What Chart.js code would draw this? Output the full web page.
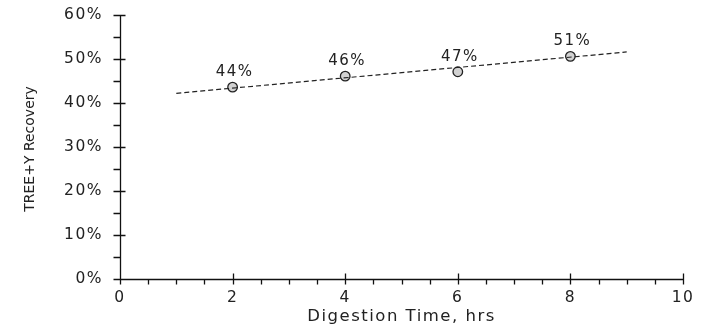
<!DOCTYPE html>
<html>
<head>
<meta charset="utf-8">
<script src="https://cdn.jsdelivr.net/npm/chart.js@4/dist/chart.umd.min.js"></script>
<style>
  html, body { margin: 0; padding: 0; background: #fff; }
  #wrap { width: 704px; height: 330px; }
</style>
</head>
<body>
<div id="wrap"><canvas id="myChart"></canvas></div>
<script>
// values
var hours = [2, 4, 6, 8];
var recovery = [43.6, 46.1, 47.1, 50.6];
var pointLabels = ["44%", "46%", "47%", "51%"];
var trendHours = [1, 9];
var trendRecovery = [42.2, 51.6];
var xTicks = [0, 2, 4, 6, 8, 10];
var yTicks = [0, 10, 20, 30, 40, 50, 60];

var xTitle = "Digestion Time, hrs";
var yTitle = "TREE+Y Recovery";
var font = "DejaVu Sans";

function spacing(chart) {
  chart.ctx.letterSpacing = "1.5px";
}

// axis lines + crossing major ticks + minor ticks
var axisTicks = {
  id: "axisTicks",
  beforeLayout: spacing,
  beforeDraw: spacing,
  afterDraw: function (chart) {
    var ctx = chart.ctx;
    var xs = chart.scales.x, ys = chart.scales.y;
    var a = chart.chartArea;
    var left = Math.round(a.left) + 0.5, bottom = Math.round(a.bottom) + 0.5;
    ctx.save();
    ctx.strokeStyle = "#111";
    ctx.lineWidth = 1.3;
    ctx.beginPath();
    ctx.moveTo(left, Math.round(a.top));
    ctx.lineTo(left, bottom);
    ctx.lineTo(Math.round(a.right), bottom);
    for (var v = 0; v <= 60; v += 5) {
      var y = Math.round(ys.getPixelForValue(v)) + 0.5;
      ctx.moveTo(left - 7, y);
      ctx.lineTo(v % 10 === 0 ? left + 5 : left, y);
    }
    for (var h = 0; h <= 10; h += 0.5) {
      var x = Math.round(xs.getPixelForValue(h)) + 0.5;
      ctx.moveTo(x, h % 2 === 0 ? bottom - 6 : bottom);
      ctx.lineTo(x, bottom + 5);
    }
    ctx.stroke();

    // y title
    ctx.letterSpacing = "0px";
    ctx.fillStyle = "#222";
    ctx.font = "14px '" + font + "'";
    ctx.textAlign = "center";
    ctx.textBaseline = "middle";
    ctx.translate(30, (a.top + a.bottom) / 2 + 2);
    ctx.rotate(-Math.PI / 2);
    ctx.fillText(yTitle, 0, 0);
    ctx.restore();
  }
};

// value labels above the points
var valueLabels = {
  id: "valueLabels",
  afterDatasetsDraw: function (chart) {
    var ctx = chart.ctx;
    var meta = chart.getDatasetMeta(1);
    ctx.save();
    ctx.fillStyle = "#222";
    ctx.font = "15px '" + font + "'";
    ctx.textAlign = "center";
    ctx.textBaseline = "middle";
    meta.data.forEach(function (pt, i) {
      ctx.fillText(pointLabels[i], pt.x + 2, pt.y - 15);
    });
    ctx.restore();
  }
};

var ctx = document.getElementById("myChart");
var myChart = new Chart(ctx, {
  type: "scatter",
  data: {
    datasets: [{
      type: "line",
      label: "trend",
      data: trendHours.map(function (h, i) { return { x: h, y: trendRecovery[i] }; }),
      borderColor: "#222",
      borderWidth: 1.2,
      borderDash: [5, 3],
      pointRadius: 0,
      fill: false
    },
    {
      label: "recovery",
      data: hours.map(function (h, i) { return { x: h, y: recovery[i] }; }),
      backgroundColor: "#d2d2d2",
      borderColor: "#222",
      borderWidth: 1.3,
      pointRadius: 4.8,
      pointHoverRadius: 4.8
    }]
  },
  options: {
    responsive: true,
    maintainAspectRatio: false,
    animation: false,
    events: [],
    layout: { padding: { left: 0, right: 21, top: 15, bottom: 0 } },
    plugins: { legend: { display: false }, tooltip: { enabled: false } },
    scales: {
      x: {
        type: "linear",
        min: 0,
        max: 10,
        afterFit: function (s) { s.height = 51; s.paddingLeft = 0; s.paddingRight = 0; },
        afterBuildTicks: function (s) { s.ticks = xTicks.map(function (v) { return { value: v }; }); },
        grid: { display: false, drawTicks: false },
        border: { display: false },
        ticks: { color: "#222", padding: 10, font: { family: font, size: 15.5 } },
        title: {
          display: true,
          text: xTitle,
          color: "#222",
          padding: { top: 0, bottom: 3 },
          font: { family: font, size: 16.5 }
        }
      },
      y: {
        min: 0,
        max: 60,
        afterFit: function (s) { s.width = 120; s.paddingTop = 0; s.paddingBottom = 0; },
        afterBuildTicks: function (s) { s.ticks = yTicks.map(function (v) { return { value: v }; }); },
        grid: { display: false, drawTicks: false },
        border: { display: false },
        ticks: {
          color: "#222",
          padding: 17,
          font: { family: font, size: 15.5 },
          callback: function (v) { return v + "%"; }
        }
      }
    }
  },
  plugins: [axisTicks, valueLabels]
});
</script>
</body>
</html>
